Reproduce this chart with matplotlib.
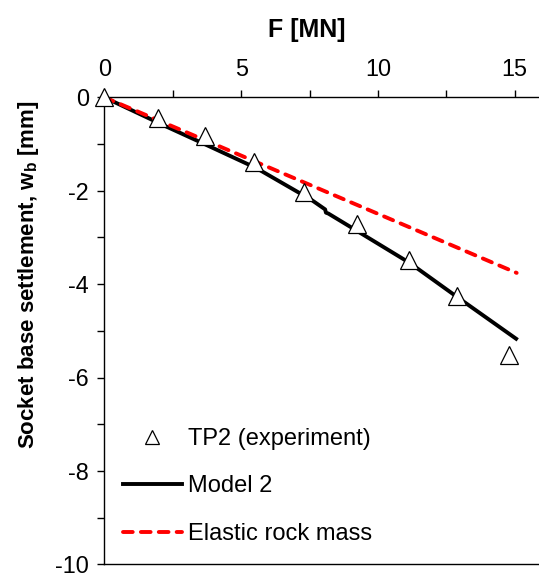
import matplotlib as mpl
import matplotlib.pyplot as plt
from matplotlib.ticker import MultipleLocator

mpl.rcParams['font.family'] = 'Liberation Sans'
mpl.rcParams['mathtext.fontset'] = 'custom'
mpl.rcParams['mathtext.rm'] = 'Liberation Sans'
mpl.rcParams['mathtext.bf'] = 'Liberation Sans:bold'
mpl.rcParams['axes.unicode_minus'] = False

# TP2 experiment (F in MN, w_b in mm)
exp_F = [0, 1.96, 3.67, 5.48, 7.31, 9.24, 11.14, 12.89, 14.78]
exp_w = [0, -0.45, -0.82, -1.38, -2.02, -2.72, -3.49, -4.26, -5.51]

# Model 2
model_F = [0, 2.28, 3.62, 5.57, 7.58, 8.07, 8.10, 8.19, 8.98, 11.17, 12.88, 15.05]
model_w = [0, -0.63, -0.99, -1.52, -2.20, -2.40, -2.47, -2.49, -2.77, -3.55, -4.27, -5.17]

# Elastic rock mass
elastic_F = [0, 15.07]
elastic_w = [0, -3.76]

fig = plt.figure(figsize=(5.39, 5.75), dpi=100)
ax = fig.add_axes([104.3 / 539, 10.7 / 575, 437.8 / 539, 467 / 575])

ax.plot(model_F, model_w, color='black', lw=2.8, label='Model 2', zorder=2)
ax.plot(elastic_F, elastic_w, color='#ff0000', lw=2.8, linestyle=(0, (2.5, 2.1)),
        dash_capstyle='round', label='Elastic rock mass', zorder=2)
ax.plot(exp_F, exp_w, linestyle='none', marker='^', ms=13, mfc='white', mec='black',
        mew=0.9, label='TP2 (experiment)', zorder=3, clip_on=False)

ax.set_xlim(0, 16)
ax.set_ylim(-10, 0)
ax.xaxis.tick_top()
ax.xaxis.set_label_position('top')
ax.xaxis.set_major_locator(MultipleLocator(5))
ax.xaxis.set_minor_locator(MultipleLocator(2.5))
ax.yaxis.set_major_locator(MultipleLocator(2))
ax.yaxis.set_minor_locator(MultipleLocator(1))
ax.tick_params(which='both', direction='out', length=5, width=1, labelsize=16.8)
ax.tick_params(axis='x', which='both', pad=7)
ax.tick_params(axis='y', which='both', pad=6)

for s in ['top', 'left', 'bottom']:
    ax.spines[s].set_linewidth(1)
ax.spines['right'].set_visible(False)

ax.set_xlabel('F [MN]', fontsize=18, fontweight='bold')
ax.xaxis.set_label_coords(0.463, 1.13)
ax.set_ylabel(r'Socket base settlement, w$_\mathbf{b}$ [mm]', fontsize=16, fontweight='bold')
ax.yaxis.set_label_coords(-0.145, 0.62)

h, l = ax.get_legend_handles_labels()
order = [2, 0, 1]
ax.legend([h[i] for i in order], [l[i] for i in order], frameon=False, fontsize=17,
          loc='upper left', bbox_to_anchor=(122.7 / 539, 1 - 428 / 575),
          bbox_transform=fig.transFigure, borderpad=0, borderaxespad=0,
          handlelength=2.5, handletextpad=0.27, labelspacing=1.08,
          numpoints=1, markerscale=0.8)

fig.savefig('out.png', dpi=100)
